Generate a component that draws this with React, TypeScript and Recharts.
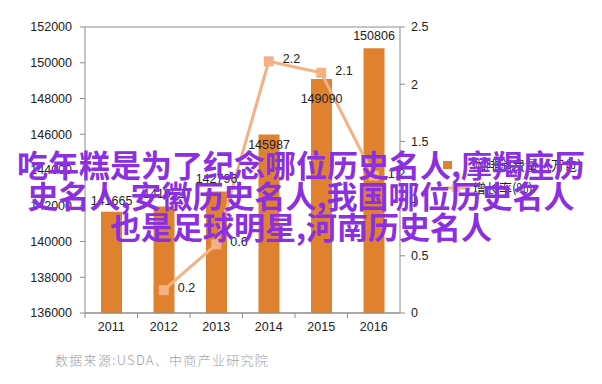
import { ComposedChart, Bar, Line, XAxis, YAxis, CartesianGrid, LabelList } from "recharts"

const years = ["2011", "2012", "2013", "2014", "2015", "2016"]
const consumption = [141665, 141952, 142796, 145987, 149090, 150806]
const growth = [null, 0.2, 0.6, 2.2, 2.1, 1.2]
const leftTicks = [136000, 138000, 140000, 142000, 144000, 146000, 148000, 150000, 152000]
const rightTicks = [0, 0.5, 1, 1.5, 2, 2.5]

const seriesNames = ["咖啡消费量（万包）", "增长率(%)"]
const watermarkLines = [
  "吃年糕是为了纪念哪位历史名人,摩羯座历",
  "史名人,安徽历史名人,我国哪位历史名人",
  "也是足球明星,河南历史名人",
]
const sourceNote = "数据来源:USDA、中商产业研究院"

const data = years.map((year, i) => ({
  year,
  consumption: consumption[i],
  growth: growth[i],
}))

const BAR = "#E0812F"
const LINE = "#F4B183"
const AXIS = "#8c8c8c"
const FONT = "'Liberation Sans', Arial, sans-serif"

// label offsets relative to the bar top, as placed in the original
const barLabelDy = [-11, -13, -13, 11, 20, -12]

function BarValueLabel(props: any) {
  const { x, y, width, value } = props
  const i = consumption.indexOf(value)
  return (
    <text
      x={x + width / 2}
      y={y + (barLabelDy[i] ?? -10)}
      textAnchor="middle"
      dominantBaseline="central"
      fontSize={12.5}
      fontFamily={FONT}
      fill="#222"
    >
      {value}
    </text>
  )
}

function GrowthLabel(props: any) {
  const { x, y, value } = props
  if (value == null) return null
  return (
    <text x={x + 14} y={y - 2} dominantBaseline="central" fontSize={12.5} fontFamily={FONT} fill="#222">
      {value}
    </text>
  )
}

const plotWidth = 315
const band = plotWidth / years.length

function YearTick(props: any) {
  const { x, y, payload } = props
  return (
    <g>
      <line x1={x - band / 2} x2={x - band / 2} y1={y - 8} y2={y - 3} stroke={AXIS} />
      <text x={x} y={y + 10} textAnchor="middle" fontSize={12.5} fontFamily={FONT} fill="#222">
        {payload.value}
      </text>
    </g>
  )
}

function Square(props: any) {
  const { cx, cy } = props
  if (cx == null || cy == null) return null
  return <rect x={cx - 5} y={cy - 5} width={10} height={10} fill={LINE} />
}

function LegendBox() {
  return (
    <div
      style={{
        position: "absolute",
        left: 430,
        top: 153,
        fontFamily: "'Noto Sans CJK SC', sans-serif",
        fontSize: 13,
        color: "#222",
      }}
    >
      <div style={{ display: "flex", alignItems: "center", height: 23 }}>
        <span style={{ width: 9, height: 8, background: BAR, marginLeft: 13, marginRight: 21 }} />
        {seriesNames[0]}
      </div>
      <div style={{ display: "flex", alignItems: "center", height: 23 }}>
        <svg width={43} height={10}>
          <line x1={13} x2={40} y1={5} y2={5} stroke={LINE} strokeWidth={3} />
          <rect x={22} y={1} width={8} height={8} fill={LINE} />
        </svg>
        {seriesNames[1]}
      </div>
    </div>
  )
}

export default function App() {
  return (
    <div style={{ position: "absolute", left: 0, top: 0, width: 602, height: 384, background: "#fff" }}>
      <ComposedChart
        width={602}
        height={384}
        data={data}
        margin={{ top: 27, right: 162, bottom: 41, left: 0 }}
      >
        <CartesianGrid vertical={false} stroke={AXIS} />
        <XAxis
          dataKey="year"
          height={30}
          axisLine={{ stroke: AXIS }}
          tickLine={false}
          tick={<YearTick />}
          interval={0}
        />
        <YAxis
          yAxisId="left"
          width={85}
          domain={[136000, 152000]}
          ticks={leftTicks}
          axisLine={{ stroke: AXIS }}
          tickLine={{ stroke: AXIS }}
          tickSize={5}
          tick={{ fill: "#222", fontSize: 12.5, fontFamily: FONT }}
          tickMargin={8}
        />
        <YAxis
          yAxisId="right"
          orientation="right"
          width={40}
          domain={[0, 2.5]}
          ticks={rightTicks}
          axisLine={{ stroke: AXIS }}
          tickLine={{ stroke: AXIS }}
          tickSize={5}
          tick={{ fill: "#222", fontSize: 12.5, fontFamily: FONT, textAnchor: "start" }}
          tickMargin={6}
        />
        <Bar yAxisId="left" dataKey="consumption" name={seriesNames[0]} fill={BAR} barSize={21} isAnimationActive={false}>
          <LabelList dataKey="consumption" content={<BarValueLabel />} />
        </Bar>
        <Line
          yAxisId="right"
          dataKey="growth"
          name={seriesNames[1]}
          stroke={LINE}
          strokeWidth={3}
          dot={<Square />}
          activeDot={false}
          type="linear"
          isAnimationActive={false}
        >
          <LabelList dataKey="growth" content={<GrowthLabel />} />
        </Line>
      </ComposedChart>
      <LegendBox />
      <div
        style={{
          position: "absolute",
          left: 55,
          top: 350,
          fontFamily: "'Noto Sans CJK SC', sans-serif",
          fontSize: 13,
          fontWeight: 300,
          letterSpacing: 1.3,
          color: "#a0a0a0",
        }}
      >
        {sourceNote}
      </div>
      <div
        style={{
          position: "absolute",
          left: 0,
          top: 148,
          width: 602,
          textAlign: "center",
          fontFamily: "'Noto Sans CJK SC', sans-serif",
          fontWeight: 700,
          fontSize: 31,
          lineHeight: "31px",
          color: "#8B2FE0",
          pointerEvents: "none",
        }}
      >
        {watermarkLines.map((line) => (
          <div key={line} style={{ whiteSpace: "nowrap" }}>{line}</div>
        ))}
      </div>
    </div>
  )
}
